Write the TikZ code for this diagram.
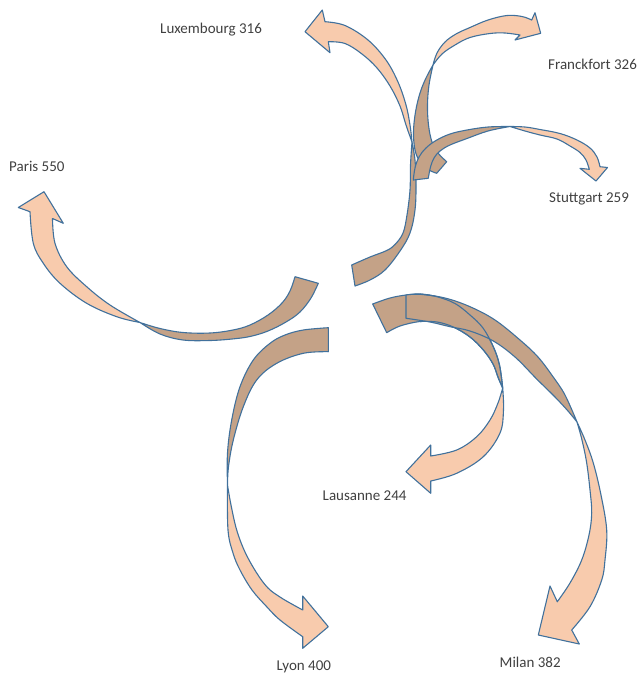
\documentclass[tikz,border=0pt]{standalone}
\usepackage{fontspec}
\setmainfont{Carlito}
\definecolor{peach}{HTML}{F8CBAD}
\definecolor{backtan}{HTML}{C4A287}
\definecolor{edgeblue}{HTML}{41719C}
\definecolor{txt}{HTML}{404040}
\tikzset{
  front/.style={fill=peach, draw=edgeblue, line width=1.1pt, line join=round},
  back/.style={fill=backtan, draw=edgeblue, line width=1.1pt, line join=round},
  rim/.style={draw=edgeblue, line width=1.1pt, line join=round},
  citylabel/.style={font=\fontsize{15}{18}\selectfont, text=txt, inner sep=0pt, anchor=base west},
  sm/.style={smooth, tension=0.6}
}
\begin{document}
\begin{tikzpicture}[x=1pt, y=-1pt]
\useasboundingbox (0,0) rectangle (639,673);

% Paris
\path[back] plot[sm] coordinates {(295,276.7) (290,291) (282,303) (268,315) (250,325) (233,330) (210,333) (183,332.5) (160,328.5) (140,322.5)}
  -- plot[sm] coordinates {(140,322.5) (160,334) (183,340) (210,340.5) (232,339) (250,336.5) (268,331) (286,322) (300,312) (311,298) (318.3,283.3)} -- cycle;
\path[front] plot[sm] coordinates {(140,322.5) (116.7,316.7) (86.7,303.3) (60,283.3) (43.3,263.3) (33.3,243.3) (30,211.7)}
  -- (18.3,207.5) -- (44,191.7) -- (63.3,223.3) -- (52.5,218.5)
  -- plot[sm] coordinates {(52.5,218.5) (55,243.3) (66.7,266.7) (86.7,286.7) (110,305) (140,322.5)} -- cycle;

% Lyon
\path[back] plot[sm] coordinates {(328.3,327.7) (303.3,330) (285,335) (270,343.3) (253.3,360) (240,386.7) (231.7,420) (227.5,453) (227.5,485)}
  -- plot[sm] coordinates {(227.5,485) (228.5,466.7) (233.3,440) (243.3,406.7) (256.7,380) (276.7,363.3) (303.3,353.3) (328.3,351.7)} -- cycle;
\path[front] plot[sm] coordinates {(227.5,485) (228,530) (233,553) (240,570) (252,590) (266.7,606.7) (280,620) (302.7,636.7)}
  -- (302.7,648.3) -- (328.3,626.7) -- (302.7,596) -- (302.7,610)
  -- plot[sm] coordinates {(302.7,610) (290,603) (280,597) (268,588) (256.7,573) (245,552) (236.7,530) (231,505) (227.5,485)} -- cycle;

% Lausanne
\path[back] plot[sm] coordinates {(372.7,304) (390,298) (406,295) (420,294) (437,296.7) (455,303.5) (470,315) (483,328) (493.3,346.7) (499.5,365) (502.7,388)}
  -- plot[sm] coordinates {(502.7,388) (498.3,378) (493,364) (483.3,350) (470,337) (453.3,327) (437,322) (420,321.5) (400,326) (386.7,332.7)} -- cycle;
\path[front] plot[sm] coordinates {(502.7,388) (503.5,410) (500,433) (483.3,456.7) (456.7,473.3) (430.7,481)}
  -- (430.7,493.3) -- (406,471.7) -- (430.7,445) -- (430.7,456)
  -- plot[sm] coordinates {(430.7,456) (456.7,450) (476.7,436.7) (490,420) (498,403) (502.7,388)} -- cycle;

% Milan
\path[back] plot[sm] coordinates {(406,295) (420,294.3) (445,298) (470,306.7) (495,320) (520,340) (538,357) (553,376.7) (565,395) (577,422)}
  -- plot[sm] coordinates {(577,422) (568,411) (555,397) (536.7,379) (515,357) (493.3,341) (470,331) (450,326.7) (430,322) (406,318.3)} -- cycle;
\path[front] plot[sm] coordinates {(577,422) (585,440) (593.3,463) (601,495) (606.7,530) (605,560) (601.7,580) (590,606.7) (571.7,630)}
  -- (579.3,644) -- (538.3,635) -- (550,586) -- (557.3,601.7)
  -- plot[sm] coordinates {(557.3,601.7) (570,583) (581.7,560) (589,535) (591.7,513) (590,490) (586.7,463) (582,440) (577,422)} -- cycle;
% Lausanne back rim seen through
\path[rim] plot[sm] coordinates {(420,294) (437,296.7) (455,303.5) (470,315) (483,328) (493.3,346.7) (499.5,365) (502.7,388)}
  -- plot[sm] coordinates {(502.7,388) (498.3,378) (493,364) (483.3,350) (470,337) (453.3,327) (437,322) (420,321.5)};

% Frankfurt
\path[back] plot[sm] coordinates {(433,65) (426,78) (420,93) (415.5,112) (413.5,132) (415,150) (420,162) (428,169.5) (436.7,173.3)}
  -- (446.7,161.7)
  -- plot[sm] coordinates {(446.7,161.7) (438,153) (432,142) (428.5,125) (427.5,105) (429,85) (433,65)} -- cycle;
\path[front] plot[sm] coordinates {(433,65) (437,53) (445,42) (456,34) (470,27.5) (488,20) (507,15.5) (522,16.5) (531.7,20)}
  -- (535,12.7) -- (540.7,33.3) -- (515,40) -- (520,35)
  -- plot[sm] coordinates {(520,35) (505,33) (490,33.5) (470,37.5) (455,45) (442,54) (433,65)} -- cycle;

% Luxembourg
\path[back] plot[sm] coordinates {(412,142) (410.5,165) (410,190) (407,215) (403,233) (395,244.5) (386.7,250.5) (370,257) (351.7,265)}
  -- (355,286)
  -- plot[sm] coordinates {(355,286) (370,280) (385,270) (400,251) (410,233) (415,210) (416,185) (415,160) (412,142)} -- cycle;
\path[front] plot[sm] coordinates {(412,142) (410,125) (406,105) (398,82) (386,60) (368,40) (345,25.5) (325,21.7)}
  -- (322.3,10) -- (305,31.7) -- (330,52.7) -- (328.3,41.7)
  -- plot[sm] coordinates {(328.3,41.7) (345,43.5) (362,54) (377,68) (390,86) (400,106) (406,125) (412,142)} -- cycle;

% Stuttgart
\path[back] plot[sm] coordinates {(413.3,180) (415,168) (419,157) (426,148) (436,140.5) (450,134) (467,130) (488,127) (510,126.5)}
  -- plot[sm] coordinates {(510,126.5) (488,131) (467,138.5) (450,145) (440,151) (434,158) (430.5,167) (428.3,178.3)} -- cycle;
\path[front] plot[sm] coordinates {(510,126.5) (525,127) (540,129.5) (560,133.5) (577,140) (590,148) (597,157) (600,166.7)}
  -- (607.5,167.5) -- (596,181) -- (580,168.3) -- (589.3,169.3)
  -- plot[sm] coordinates {(589.3,169.3) (586,160) (580,152.5) (570,146) (557,139) (540,135) (525,131) (510,126.5)} -- cycle;

% Labels
\node[citylabel] (lux) at (160,33) {Luxembourg 316};
\node[citylabel] (fra) at (548,69) {Franckfort 326};
\node[citylabel] (par) at (9,171) {Paris 550};
\node[citylabel] (stu) at (549,202) {Stuttgart 259};
\node[citylabel] (lau) at (322.5,500.5) {Lausanne 244};
\node[citylabel] (lyo) at (276.5,670.5) {Lyon 400};
\node[citylabel] (mil) at (499.5,667.5) {Milan 382};
\end{tikzpicture}
\end{document}
